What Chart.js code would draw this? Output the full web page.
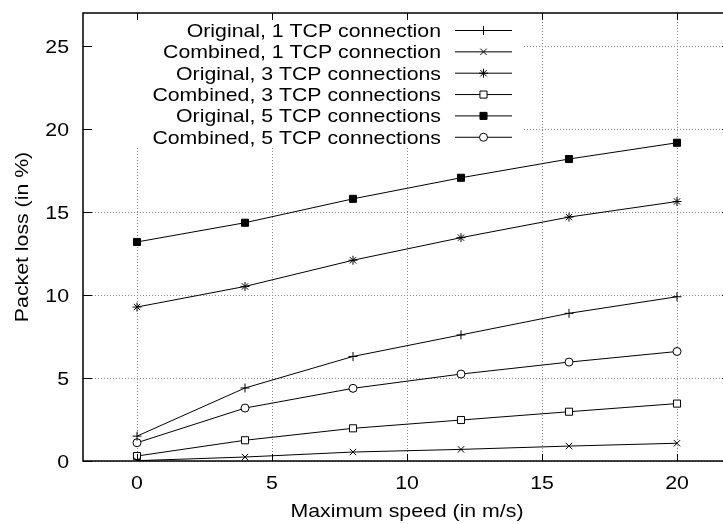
<!DOCTYPE html>
<html>
<head>
<meta charset="utf-8">
<script src="https://cdn.jsdelivr.net/npm/chart.js@4/dist/chart.umd.min.js"></script>
<style>
  html, body { margin: 0; padding: 0; overflow: hidden; background: #fff; }
  #wrap { width: 740px; height: 524px; }
</style>
</head>
<body>
<div id="wrap"><canvas id="lossChart" width="740" height="524"></canvas></div>
<script>
const speeds = [0, 4, 8, 12, 16, 20];

const seriesLabels = [
  'Original, 1 TCP connection',
  'Combined, 1 TCP connection',
  'Original, 3 TCP connections',
  'Combined, 3 TCP connections',
  'Original, 5 TCP connections',
  'Combined, 5 TCP connections'
];

const orig1 = [1.5, 4.4, 6.3, 7.6, 8.9, 9.9];
const comb1 = [0.02, 0.24, 0.54, 0.7, 0.9, 1.07];
const orig3 = [9.28, 10.52, 12.1, 13.46, 14.7, 15.64];
const comb3 = [0.3, 1.25, 1.97, 2.47, 2.97, 3.46];
const orig5 = [13.2, 14.36, 15.8, 17.07, 18.2, 19.18];
const comb5 = [1.1, 3.19, 4.38, 5.24, 5.96, 6.6];

const xTicks = [0, 5, 10, 15, 20];
const yTicks = [0, 5, 10, 15, 20, 25];
const xTitle = 'Maximum speed (in m/s)';
const yTitle = 'Packet loss (in %)';

const seriesValues = [orig1, comb1, orig3, comb3, orig5, comb5];
const markerStyles = ['cross', 'crossRot', 'star', 'rect', 'rect', 'circle'];
const markerRadius = [4.5, 4.5, 4.5, 5, 5, 4];
const markerFill = ['#000', '#000', '#000', '#fff', '#000', '#fff'];

const FONT = '19px "Liberation Sans", Arial, Helvetica, sans-serif';
const SX = 1.12; // text in the reference is a bit wider than Arial

Chart.defaults.font.family = '"Liberation Sans", Arial, Helvetica, sans-serif';
Chart.defaults.font.size = 19;
Chart.defaults.color = '#000';

const datasets = seriesValues.map((vals, i) => ({
  label: seriesLabels[i],
  data: vals.map((v, j) => ({ x: speeds[j], y: v })),
  borderColor: '#000',
  borderWidth: 1,
  pointStyle: markerStyles[i],
  pointRadius: markerRadius[i],
  pointBackgroundColor: markerFill[i],
  pointBorderColor: '#000',
  pointBorderWidth: 1,
  tension: 0
}));

function wideText(ctx, text, x, y, align, rot) {
  ctx.save();
  ctx.translate(x, y);
  if (rot) ctx.rotate(rot);
  ctx.scale(SX, 1);
  ctx.textAlign = align;
  ctx.textBaseline = 'alphabetic';
  ctx.fillText(text, 0, 0);
  ctx.restore();
}

// gnuplot-like key box, frame, inward ticks and all text
const gnuplotBits = {
  id: 'gnuplotBits',
  afterDatasetsDraw(chart) {
    const ctx = chart.ctx;
    const area = chart.chartArea;
    const xs = chart.scales.x;
    const ys = chart.scales.y;
    ctx.save();
    ctx.font = FONT;

    // key box (opaque)
    ctx.fillStyle = '#fff';
    ctx.fillRect(area.left + 1, area.top + 1, 522 - area.left, 147 - area.top);

    chart.data.datasets.forEach((ds, i) => {
      const y = 30 + i * 21.35;
      ctx.fillStyle = '#000';
      wideText(ctx, ds.label, 441, y + 7, 'right');
      ctx.strokeStyle = '#000';
      ctx.lineWidth = 1;
      ctx.beginPath();
      ctx.moveTo(455, y + 0.5);
      ctx.lineTo(512, y + 0.5);
      ctx.stroke();
      ctx.fillStyle = ds.pointBackgroundColor;
      Chart.helpers.drawPoint(ctx, {
        pointStyle: ds.pointStyle,
        radius: ds.pointRadius,
        rotation: 0,
        borderWidth: 1
      }, 483.5, y + 0.5);
    });

    // inward ticks
    ctx.strokeStyle = '#000';
    ctx.lineWidth = 1;
    ctx.beginPath();
    xTicks.forEach(t => {
      const px = Math.round(xs.getPixelForValue(t)) + 0.5;
      ctx.moveTo(px, area.bottom);
      ctx.lineTo(px, area.bottom - 7);
      ctx.moveTo(px, area.top);
      ctx.lineTo(px, area.top + 7);
    });
    yTicks.forEach(t => {
      const py = Math.round(ys.getPixelForValue(t)) + 0.5;
      ctx.moveTo(area.left, py);
      ctx.lineTo(area.left + 9, py);
      ctx.moveTo(area.right, py);
      ctx.lineTo(area.right - 9, py);
    });
    ctx.stroke();

    // frame
    ctx.lineWidth = 1.5;
    ctx.strokeRect(area.left, area.top, area.right - area.left, area.bottom - area.top);

    // tick labels and axis titles
    ctx.fillStyle = '#000';
    xTicks.forEach(t => {
      wideText(ctx, String(t), xs.getPixelForValue(t), 489, 'center');
    });
    yTicks.forEach(t => {
      wideText(ctx, String(t), 69, ys.getPixelForValue(t) + 7, 'right');
    });
    wideText(ctx, xTitle, (area.left + area.right) / 2, 517, 'center');
    wideText(ctx, yTitle, 28, (area.top + area.bottom) / 2, 'center', -Math.PI / 2);
    ctx.restore();
  }
};

new Chart(document.getElementById('lossChart'), {
  type: 'line',
  data: { datasets },
  plugins: [gnuplotBits],
  options: {
    responsive: false,
    animation: false,
    layout: { padding: { top: 13, right: 9, left: 0, bottom: 0 } },
    plugins: {
      legend: { display: false },
      tooltip: { enabled: false }
    },
    scales: {
      x: {
        type: 'linear',
        min: -2,
        max: 22,
        afterBuildTicks(scale) { scale.ticks = xTicks.map(v => ({ value: v })); },
        afterFit(scale) { scale.height = 63; },
        ticks: { display: false },
        grid: { color: '#888', lineWidth: 1, drawTicks: false },
        border: { display: false, dash: [1, 2] },
        title: { display: false, text: xTitle }
      },
      y: {
        type: 'linear',
        min: 0,
        max: 27,
        afterBuildTicks(scale) { scale.ticks = yTicks.map(v => ({ value: v })); },
        afterFit(scale) { scale.width = 83; },
        ticks: { display: false },
        grid: { color: '#888', lineWidth: 1, drawTicks: false },
        border: { display: false, dash: [1, 2] },
        title: { display: false, text: yTitle }
      }
    }
  }
});
</script>
</body>
</html>
